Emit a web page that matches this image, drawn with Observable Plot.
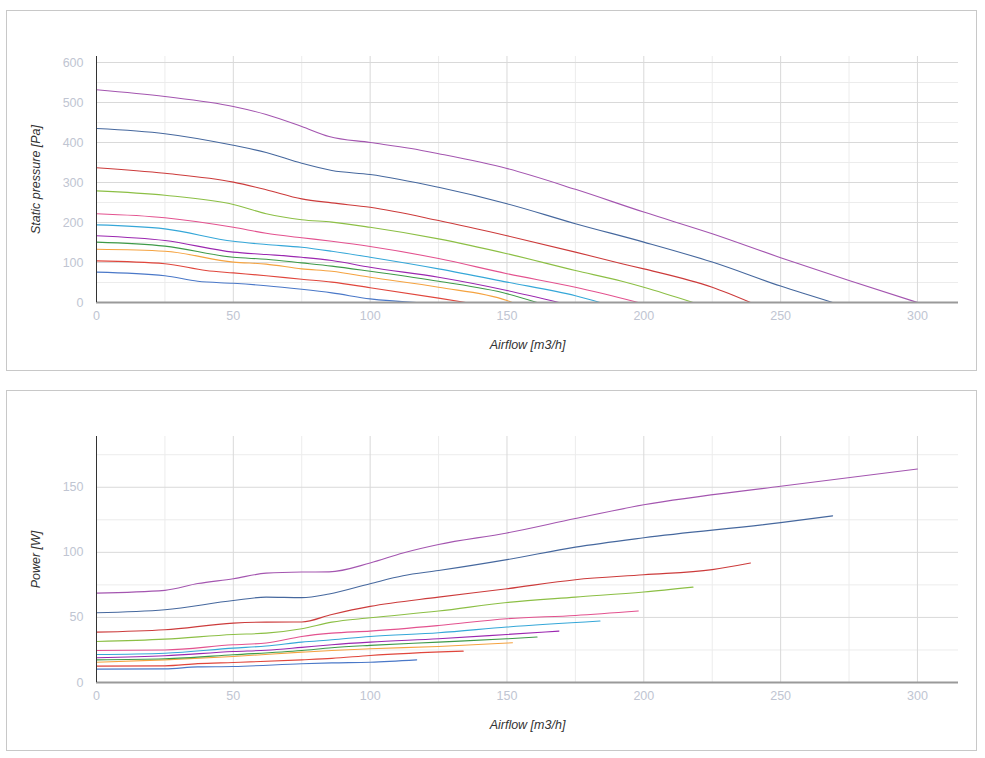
<!DOCTYPE html>
<html>
<head>
<meta charset="utf-8">
<script src="https://cdn.jsdelivr.net/npm/d3@7"></script>
<script src="https://cdn.jsdelivr.net/npm/@observablehq/plot@0.6"></script>
<style>
  html, body { margin: 0; padding: 0; background: #fff; }
  .panel { position: absolute; left: 6px; width: 969px; height: 359px; border: 1px solid #c8c8c8; background: #fff; }
  #p1 { top: 10px; }
  #p2 { top: 390px; }
  .panel svg { display: block; }
</style>
</head>
<body>
<div class="panel" id="p1"></div>
<div class="panel" id="p2"></div>
<script>
// ---- Data: [airflow m3/h, value] pairs ----
const seriesColors = ["#4a78c8", "#e0463c", "#f5a340", "#3e9a48", "#9b27b0", "#35a7d8", "#e3528f", "#8cbf45", "#cc3b3b", "#46689e", "#a456b0"];

// Static pressure [Pa]
const pressure1  = [[0,76],[25,67],[37,53],[50,48],[62,42],[75,33],[86,24],[100,9],[117,0]];
const pressure2  = [[0,104],[25,97],[40,80],[50,74],[62,67],[75,58],[86,51],[100,37],[125,11],[135,0]];
const pressure3  = [[0,133],[25,128],[50,101],[62,96],[75,84],[86,78],[100,63],[125,38],[150,5],[152,0]];
const pressure4  = [[0,151],[25,141],[50,113],[62,108],[75,99],[86,91],[100,78],[125,53],[150,22],[161,0]];
const pressure5  = [[0,167],[25,155],[50,126],[62,120],[75,113],[86,105],[100,88],[125,63],[150,30],[169,0]];
const pressure6  = [[0,194],[25,184],[50,153],[62,145],[75,138],[86,128],[100,113],[125,84],[150,51],[175,17],[184,0]];
const pressure7  = [[0,222],[25,212],[50,188],[62,173],[75,162],[86,153],[100,140],[125,110],[150,72],[175,38],[198,0]];
const pressure8  = [[0,279],[25,268],[50,245],[62,222],[75,207],[86,201],[100,188],[125,159],[150,122],[175,80],[192,53],[200,38],[218,0]];
const pressure9  = [[0,337],[25,323],[50,301],[62,282],[75,259],[86,249],[100,238],[125,205],[150,167],[175,126],[192,97],[200,84],[225,38],[239,0]];
const pressure10 = [[0,435],[25,422],[50,393],[62,375],[75,348],[86,330],[100,320],[125,288],[150,247],[175,197],[200,151],[225,101],[250,41],[269,0]];
const pressure11 = [[0,532],[25,515],[50,490],[62,470],[75,440],[85,415],[100,400],[115,385],[125,372],[150,335],[175,283],[200,226],[225,172],[250,112],[275,55],[300,0]];

// Power [W]
const power1  = [[0,10.3],[25,10.5],[37,12],[50,12.3],[75,14.4],[86,15.1],[100,15.6],[117,17.4]];
const power2  = [[0,12.6],[25,12.8],[37,14.5],[50,15.4],[75,17.4],[86,18.5],[100,20.8],[134,24.1]];
const power3  = [[0,15.6],[25,17.4],[50,20],[75,23.3],[86,24.6],[100,25.9],[125,27.7],[152,30.5]];
const power4  = [[0,17.4],[25,18.2],[50,21.3],[75,24.6],[86,26.7],[100,28.5],[125,31],[150,33.6],[161,34.9]];
const power5  = [[0,19],[25,20.5],[50,23.8],[62,24.8],[75,27],[86,29],[100,31],[125,33.6],[150,36.9],[169,39.5]];
const power6  = [[0,21.5],[25,22.5],[50,26.4],[62,28],[75,31],[86,32.8],[100,35.4],[125,38.2],[150,42.6],[184,47.2]];
const power7  = [[0,24.6],[25,25],[50,29],[62,30.3],[75,35.4],[86,37.9],[100,39.5],[125,43.8],[150,49],[175,51.5],[198,54.9]];
const power8  = [[0,31.5],[25,33.3],[50,36.9],[62,37.9],[75,41.3],[86,46.4],[100,49.7],[125,54.9],[150,61.5],[175,65.6],[200,69.5],[218,73.3]];
const power9  = [[0,38.7],[25,40.5],[50,45.6],[62,46.4],[75,46.5],[86,52.3],[100,58.5],[125,65.6],[150,72],[175,79],[200,82.8],[225,86.7],[239,91.8]];
const power10 = [[0,53.6],[25,55.9],[50,63],[62,65.6],[75,65.2],[85,68],[100,75.9],[112,82],[125,86],[150,94.4],[175,104],[200,111.2],[250,122.8],[269,128]];
const power11 = [[0,68.7],[25,70.8],[37,76],[50,79.7],[62,84],[75,84.9],[85,85],[100,91.8],[112,99.5],[125,106],[150,114.9],[175,126],[200,136.5],[250,150.8],[300,164]];

// Ticks
const xTicks = [0, 50, 100, 150, 200, 250, 300];
const xMinorTicks = [25, 75, 125, 175, 225, 275];
const pressureTicks = [0, 100, 200, 300, 400, 500, 600];
const pressureMinorTicks = [50, 150, 250, 350, 450, 550];
const powerTicks = [0, 50, 100, 150];
const powerMinorTicks = [25, 75, 125, 175];

const pressureSeries = [pressure1, pressure2, pressure3, pressure4, pressure5, pressure6, pressure7, pressure8, pressure9, pressure10, pressure11];
const powerSeries = [power1, power2, power3, power4, power5, power6, power7, power8, power9, power10, power11];

function makeChart(series, yDomain, yTicks, yMinor, yTitle) {
  const lineMarks = series.map((s, i) => Plot.line(s, {
    x: d => d[0], y: d => d[1], stroke: seriesColors[i], strokeWidth: 1.1, curve: "monotone-x"
  }));
  return Plot.plot({
    width: 969, height: 359,
    marginLeft: 89, marginRight: 18, marginTop: 45, marginBottom: 68,
    x: {domain: [0, 315]},
    y: {domain: yDomain},
    style: {fontFamily: "Arial, 'Liberation Sans', sans-serif", fontSize: "12.5px", background: "transparent", overflow: "visible"},
    marks: [
      Plot.ruleX(xMinorTicks, {stroke: "#ececec"}),
      Plot.ruleY(yMinor, {stroke: "#ececec"}),
      Plot.ruleX(xTicks.slice(1), {stroke: "#d9d9d9"}),
      Plot.ruleY(yTicks.slice(1), {stroke: "#d9d9d9"}),
      ...lineMarks,
      Plot.ruleY([0], {stroke: "#9a9a9a", strokeWidth: 2}),
      Plot.ruleX([0], {stroke: "#333"}),
      Plot.axisX({ticks: xTicks, tickSize: 0, tickPadding: 9, fill: "#c0c5d2", label: null, tickFormat: d => String(d)}),
      Plot.axisY({ticks: yTicks, tickSize: 0, tickPadding: 13, fill: "#c0c5d2", label: null, tickFormat: d => String(d)}),
      Plot.text(["Airflow [m3/h]"], {frameAnchor: "bottom", dy: 46, fontStyle: "italic", fill: "#333", fontSize: 12.5}),
      Plot.text([yTitle], {frameAnchor: "left", textAnchor: "middle", dx: -61, rotate: -90, fontStyle: "italic", fill: "#333", fontSize: 12.5})
    ]
  });
}

document.getElementById("p1").appendChild(makeChart(pressureSeries, [0, 615], pressureTicks, pressureMinorTicks, "Static pressure [Pa]"));
document.getElementById("p2").appendChild(makeChart(powerSeries, [0, 189], powerTicks, powerMinorTicks, "Power [W]"));
</script>
</body>
</html>
